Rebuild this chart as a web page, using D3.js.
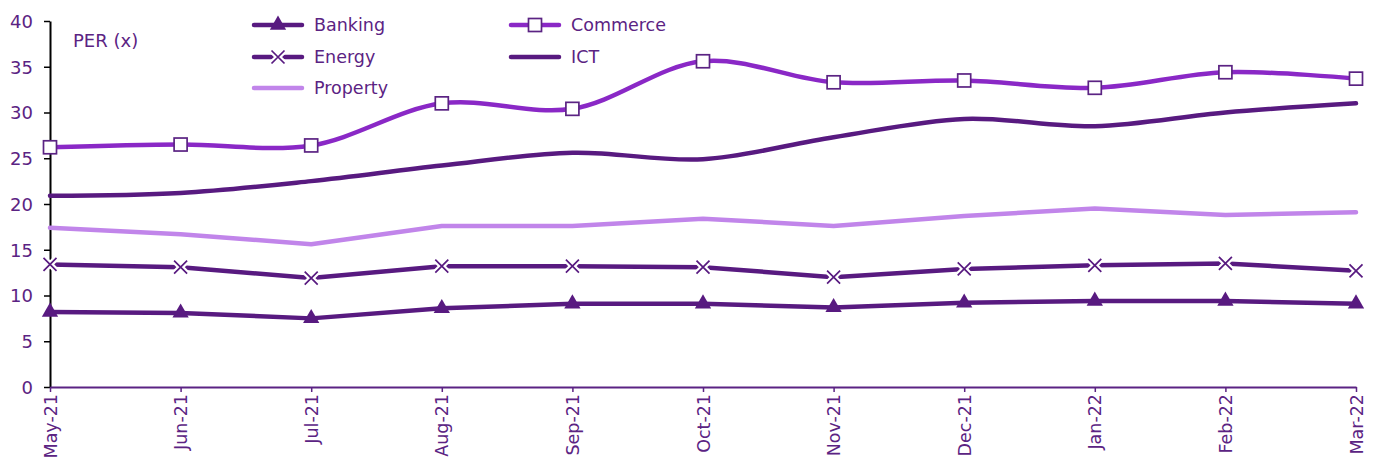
<!DOCTYPE html>
<html><head><meta charset="utf-8">
<script src="https://cdn.jsdelivr.net/npm/d3@7"></script>
<style>body{margin:0;background:#fff}svg{display:block}text{font-family:"DejaVu Sans",Verdana,sans-serif}</style>
</head><body>
<svg id="c" width="1381" height="467"></svg>
<script>
const months = ["May-21","Jun-21","Jul-21","Aug-21","Sep-21","Oct-21","Nov-21","Dec-21","Jan-22","Feb-22","Mar-22"];
const banking  = [8.2, 8.1, 7.5, 8.6, 9.1, 9.1, 8.7, 9.2, 9.4, 9.4, 9.1];
const commerce = [26.2, 26.5, 26.4, 31.0, 30.4, 35.6, 33.3, 33.5, 32.7, 34.4, 33.7];
const energy   = [13.4, 13.1, 11.9, 13.2, 13.2, 13.1, 12.0, 12.9, 13.3, 13.5, 12.7];
const ict      = [20.9, 21.2, 22.5, 24.2, 25.6, 24.9, 27.3, 29.3, 28.5, 30.0, 31.0];
const property = [17.4, 16.7, 15.6, 17.6, 17.6, 18.4, 17.6, 18.7, 19.5, 18.8, 19.1];
const yTicks = [0,5,10,15,20,25,30,35,40];

const dark = "#581a80", mid = "#8a28c6", light = "#c185ea", txt = "#5b2383";
const series = [
  {name:"Banking", values:banking, color:dark, smooth:false, marker:"tri"},
  {name:"Energy", values:energy, color:dark, smooth:false, marker:"x"},
  {name:"Property", values:property, color:light, smooth:false, marker:null},
  {name:"Commerce", values:commerce, color:mid, smooth:true, marker:"sq"},
  {name:"ICT", values:ict, color:dark, smooth:true, marker:null}
];

const svg = d3.select("#c");
const x = d3.scalePoint().domain(months).range([50, 1356]);
const y = d3.scaleLinear().domain([0, 40]).range([387, 21]);

// y axis
const ya = svg.append("g").attr("transform","translate(50,0)")
  .call(d3.axisLeft(y).tickValues(yTicks).tickSize(6).tickSizeOuter(0).tickPadding(11));
ya.select(".domain").attr("stroke","#000").attr("stroke-width",2);
ya.selectAll(".tick line").attr("stroke","#000").attr("stroke-width",1.5);
ya.selectAll(".tick text").attr("fill",txt).style("font-size","18px").attr("dy","0.35em");

// x axis
const xa = svg.append("g").attr("transform","translate(0,387)")
  .call(d3.axisBottom(x).tickSize(5).tickSizeOuter(0).tickPadding(6));
xa.select(".domain").attr("stroke",txt).attr("stroke-width",2);
xa.selectAll(".tick line").attr("stroke",txt).attr("stroke-width",1.5);
xa.selectAll(".tick text").attr("fill",txt).style("font-size","17.5px")
  .attr("transform","rotate(-90)").attr("text-anchor","end")
  .attr("x",-7).attr("y",0).attr("dy","0.35em");

svg.append("text").attr("x",73).attr("y",47).attr("fill",txt).style("font-size","18px").text("PER (x)");

const plot = svg.append("g");
function drawMarker(g, type, cx, cy, color){
  if(type==="tri"){
    g.append("path").attr("d", d3.symbol(d3.symbolTriangle, 115)()).attr("transform",`translate(${cx},${cy})`).attr("fill",color);
  } else if(type==="x"){
    const s=6.5;
    g.append("path").attr("d",`M${cx-s},${cy-s}L${cx+s},${cy+s}M${cx-s},${cy+s}L${cx+s},${cy-s}`)
      .attr("stroke","#fff").attr("stroke-width",6);
    g.append("path").attr("d",`M${cx-s},${cy-s}L${cx+s},${cy+s}M${cx-s},${cy+s}L${cx+s},${cy-s}`)
      .attr("stroke",color).attr("stroke-width",1.7);
  } else if(type==="sq"){
    g.append("rect").attr("x",cx-6.5).attr("y",cy-6.5).attr("width",13).attr("height",13)
      .attr("fill","#fff").attr("stroke","#5b2383").attr("stroke-width",1.7);
  }
}
series.forEach(s=>{
  const line = d3.line().x((d,i)=>x(months[i])).y(d=>y(d))
    .curve(s.smooth ? d3.curveCatmullRom.alpha(0.5) : d3.curveLinear);
  plot.append("path").datum(s.values).attr("d",line).attr("fill","none")
    .attr("stroke",s.color).attr("stroke-width",4.5).attr("stroke-linejoin","round").attr("stroke-linecap","round");
  if(s.marker){
    s.values.forEach((v,i)=>drawMarker(plot, s.marker, x(months[i]), y(v), s.color));
  }
});

// legend
const leg = [
  {s:series[0], lx:252, ly:25},
  {s:series[1], lx:252, ly:57},
  {s:series[2], lx:252, ly:88},
  {s:series[3], lx:509, ly:25},
  {s:series[4], lx:509, ly:57}
];
const lg = svg.append("g");
leg.forEach(l=>{
  lg.append("line").attr("x1",l.lx+2).attr("x2",l.lx+50).attr("y1",l.ly).attr("y2",l.ly)
    .attr("stroke",l.s.color).attr("stroke-width",4.5).attr("stroke-linecap","round");
  if(l.s.marker) drawMarker(lg, l.s.marker, l.lx+26, l.ly, l.s.color);
  lg.append("text").attr("x",l.lx+62).attr("y",l.ly).attr("dy","0.35em").attr("fill",txt)
    .style("font-size","17.5px").text(l.s.name);
});
</script>
</body></html>
